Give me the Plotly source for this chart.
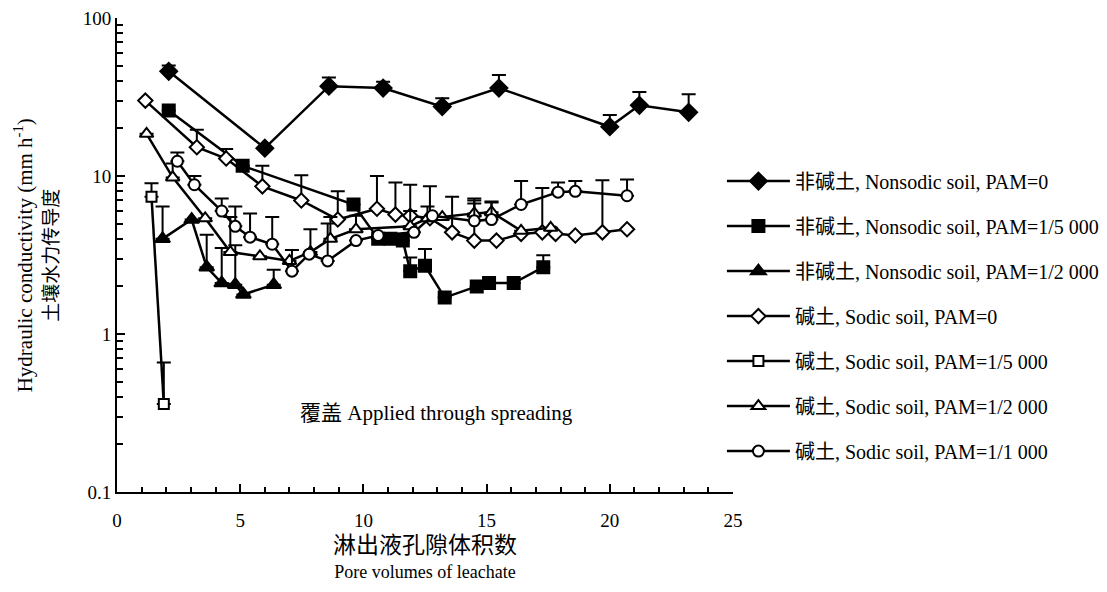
import plotly.graph_objects as go

# Nonsodic soil, PAM=0 (filled diamond)
x1 = [2.1, 6.0, 8.6, 10.8, 13.2, 15.5, 20.0, 21.2, 23.2]
y1 = [46, 15, 37, 36, 27.5, 36, 20.5, 28, 25.3]
e1 = [4, 0, 5, 3.5, 3.5, 7.5, 3.8, 6, 7.6]

# Nonsodic soil, PAM=1/5000 (filled square)
x2 = [2.1, 5.1, 9.6, 10.6, 11.1, 11.6, 11.9, 12.5, 13.3, 14.6, 15.1, 16.1, 17.3]
y2 = [26, 11.6, 6.6, 4.0, 4.0, 3.9, 2.5, 2.7, 1.7, 2.0, 2.1, 2.1, 2.65]
e2 = [0, 0, 0, 0, 0, 0, 0.55, 0.75, 0, 0, 0, 0, 0.5]

# Nonsodic soil, PAM=1/2000 (filled triangle)
x3 = [1.85, 3.03, 3.64, 4.25, 4.8, 5.13, 6.36]
y3 = [4.0, 5.3, 2.65, 2.1, 2.05, 1.78, 2.05]
e3 = [2.4, 0, 1.6, 1.4, 1.6, 0, 0.5]

# Sodic soil, PAM=0 (open diamond)
x4 = [1.15, 3.24, 4.43, 5.9, 7.48, 8.96, 10.55, 11.3, 11.9, 12.7, 13.6, 14.5, 15.4, 16.4, 17.26, 17.8, 18.6, 19.7, 20.7]
y4 = [30, 15.2, 12.9, 8.6, 7.0, 5.3, 6.2, 5.7, 5.6, 5.4, 4.4, 3.9, 3.9, 4.3, 4.4, 4.3, 4.2, 4.4, 4.6]
e4 = [0, 4.4, 1.9, 3.0, 3.1, 2.7, 3.8, 3.4, 3.2, 3.2, 3.0, 3.3, 0, 0, 4.0, 0, 0, 5.0, 0]

# Sodic soil, PAM=1/5000 (open square)
x5 = [1.4, 1.9]
y5 = [7.4, 0.36]
e5 = [1.6, 0.3]

# Sodic soil, PAM=1/2000 (open triangle)
x6 = [1.2, 2.26, 3.58, 4.6, 5.8, 7.0, 7.85, 8.66, 9.7, 11.9, 12.6, 13.2, 14.5, 15.2, 16.4, 17.6]
y6 = [18.5, 9.8, 5.4, 3.3, 3.1, 2.9, 3.3, 4.0, 4.6, 4.8, 5.4, 5.5, 5.8, 5.9, 4.5, 4.7]
e6 = [0, 2.2, 0, 2.2, 0, 0, 1.3, 1.5, 1.0, 1.2, 1.0, 0, 1.2, 1.0, 0, 0]

# Sodic soil, PAM=1/1000 (open circle)
x7 = [2.45, 3.14, 4.25, 4.8, 5.4, 6.3, 7.1, 7.8, 8.55, 9.7, 10.6, 12.05, 12.8, 14.5, 15.2, 16.4, 17.9, 18.6, 20.7]
y7 = [12.4, 8.8, 6.0, 4.8, 4.1, 3.7, 2.5, 3.2, 2.9, 3.9, 4.2, 4.4, 5.6, 5.2, 5.3, 6.6, 7.9, 8.0, 7.5]
e7 = [1.7, 1.2, 1.2, 1.6, 1.7, 1.8, 0.9, 0, 2.1, 0, 0, 0, 0, 1.5, 1.5, 2.7, 1.2, 1.3, 2.0]

names = [
    "非碱土, Nonsodic soil, PAM=0",
    "非碱土, Nonsodic soil, PAM=1/5 000",
    "非碱土, Nonsodic soil, PAM=1/2 000",
    "碱土, Sodic soil, PAM=0",
    "碱土, Sodic soil, PAM=1/5 000",
    "碱土, Sodic soil, PAM=1/2 000",
    "碱土, Sodic soil, PAM=1/1 000",
]
symbols = ["diamond", "square", "triangle-up", "diamond", "square", "triangle-up", "circle"]
filled = [True, True, True, False, False, False, False]
sizes = [13, 12, 13, 11, 10, 12, 11]

xs = [x1, x2, x3, x4, x5, x6, x7]
ys = [y1, y2, y3, y4, y5, y6, y7]
es = [e1, e2, e3, e4, e5, e6, e7]

FONT = "Liberation Serif, Noto Sans CJK SC, serif"

fig = go.Figure()
for i in range(7):
    fig.add_trace(go.Scatter(
        x=xs[i], y=ys[i], name=names[i], mode="lines+markers",
        legendgroup=f"g{i}",
        line=dict(color="black", width=2.5),
        marker=dict(symbol=symbols[i], size=sizes[i],
                    color="black" if filled[i] else "white",
                    line=dict(color="black", width=2)),
        error_y=dict(type="data", symmetric=False, array=es[i],
                     arrayminus=[0] * len(es[i]), color="black",
                     thickness=2, width=7),
    ))

# annotation inside plot
fig.add_annotation(x=12.95, y=-0.5, xref="x", yref="y",
                   text="覆盖 Applied through spreading", showarrow=False,
                   font=dict(family=FONT, size=21, color="black"))

# y-axis title (two lines)
fig.add_annotation(x=-0.131, y=0.5, xref="paper", yref="paper",
                   xanchor="center", yanchor="middle", textangle=-90,
                   text="<span style='font-size:21px'>Hydraulic conductivity (mm h<sup>-1</sup>)</span><br>"
                        "<span style='font-size:19px'>土壤水力传导度</span>",
                   showarrow=False, font=dict(family=FONT, size=20, color="black"))

# x-axis title (two lines)
fig.add_annotation(x=0.5, y=-0.139, xref="paper", yref="paper",
                   xanchor="center", yanchor="middle",
                   text="<span style='font-size:23px'>淋出液孔隙体积数</span><br>"
                        "<span style='font-size:18px'>Pore volumes of leachate</span>",
                   showarrow=False, font=dict(family=FONT, size=19, color="black"))

# page body has an 8px margin: figure starts at (8, 8) in the window
fig.update_layout(
    width=1099, height=576,
    margin=dict(l=109, r=374, t=10, b=92, autoexpand=False),
    paper_bgcolor="white", plot_bgcolor="white",
    font=dict(family=FONT, size=16, color="black"),
    showlegend=True,
    legend=dict(x=0.982, xanchor="left", y=0.697, yanchor="top",
                tracegroupgap=16, font=dict(family=FONT, size=20, color="black"),
                itemwidth=63, bgcolor="rgba(0,0,0,0)", borderwidth=0),
    xaxis=dict(range=[0, 25], tick0=0, dtick=5, showgrid=False, zeroline=False,
               automargin=False, ticklabeloverflow="allow",
               showline=True, linecolor="black", linewidth=2,
               ticks="inside", ticklen=8, tickwidth=2, tickcolor="black",
               minor=dict(dtick=1, ticks="inside", ticklen=5, tickwidth=2, tickcolor="black"),
               tickfont=dict(family=FONT, size=19), ticklabelstandoff=10),
    yaxis=dict(type="log", range=[-1, 2], showgrid=False, zeroline=False,
               automargin=False, ticklabeloverflow="allow",
               showline=True, linecolor="black", linewidth=2,
               tickvals=[0.1, 1, 10, 100], ticktext=["0.1", "1", "10", "100"],
               ticks="inside", ticklen=8, tickwidth=2, tickcolor="black",
               minor=dict(tickvals=[v * m for m in [0.1, 1, 10] for v in range(2, 10)],
                          ticks="inside", ticklen=6, tickwidth=2, tickcolor="black"),
               tickfont=dict(family=FONT, size=19)),
)

fig.write_html("out.html")
